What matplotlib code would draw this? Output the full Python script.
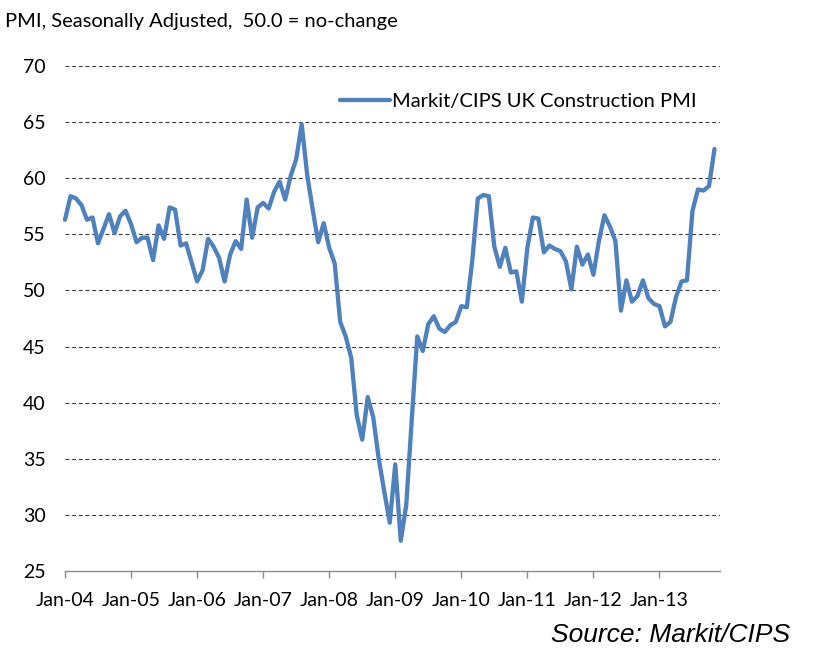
import numpy as np
import matplotlib
matplotlib.use('agg')
import matplotlib.pyplot as plt

# Markit/CIPS UK Construction PMI, monthly, Jan-04 .. Nov-13
pmi_2004 = [56.3, 58.4, 58.2, 57.6, 56.3, 56.5, 54.2, 55.5, 56.8, 55.1, 56.6, 57.1]
pmi_2005 = [55.9, 54.3, 54.7, 54.7, 52.7, 55.8, 54.6, 57.4, 57.2, 54.0, 54.2, 52.5]
pmi_2006 = [50.8, 51.8, 54.6, 53.9, 52.9, 50.8, 53.2, 54.4, 53.7, 58.1, 54.7, 57.4]
pmi_2007 = [57.8, 57.3, 58.8, 59.7, 58.1, 60.2, 61.7, 64.8, 60.3, 57.2, 54.3, 56.0]
pmi_2008 = [53.8, 52.4, 47.2, 45.9, 44.0, 38.9, 36.7, 40.5, 38.7, 35.0, 32.1, 29.3]
pmi_2009 = [34.5, 27.7, 30.9, 38.5, 45.9, 44.6, 47.0, 47.7, 46.6, 46.3, 46.9, 47.2]
pmi_2010 = [48.6, 48.5, 52.7, 58.2, 58.5, 58.4, 53.9, 52.1, 53.8, 51.6, 51.7, 49.0]
pmi_2011 = [53.8, 56.5, 56.4, 53.4, 54.0, 53.7, 53.5, 52.6, 50.1, 53.9, 52.3, 53.2]
pmi_2012 = [51.4, 54.4, 56.7, 55.7, 54.4, 48.2, 50.9, 49.0, 49.5, 50.9, 49.3, 48.8]
pmi_2013 = [48.6, 46.8, 47.2, 49.4, 50.8, 50.9, 57.1, 59.0, 58.9, 59.3, 62.6]

xlabels = ['Jan-04', 'Jan-05', 'Jan-06', 'Jan-07', 'Jan-08',
           'Jan-09', 'Jan-10', 'Jan-11', 'Jan-12', 'Jan-13']
yticks = [25, 30, 35, 40, 45, 50, 55, 60, 65, 70]

pmi = pmi_2004 + pmi_2005 + pmi_2006 + pmi_2007 + pmi_2008 + \
      pmi_2009 + pmi_2010 + pmi_2011 + pmi_2012 + pmi_2013
months = np.arange(len(pmi))

plt.rcParams['font.family'] = ['Lato', 'DejaVu Sans']

fig = plt.figure(figsize=[8.21, 6.62], dpi=100)
ax = fig.add_axes([65/821, 91/662, 655/821, 505/662])

for yv in yticks[1:]:
    ax.axhline(yv, color='#3a3a3a', linewidth=0.8, linestyle=(0, (3.5, 2.5)), zorder=1)

ax.plot(months, pmi, color='#4f81bd', linewidth=3.1, solid_joinstyle='round',
        solid_capstyle='round', clip_on=False,
        label='Markit/CIPS UK Construction PMI', zorder=3)

ax.set_xlim(0, 119)
ax.set_ylim(25, 70)
ax.set_xticks(np.arange(0, 120, 12))
ax.set_xticklabels(xlabels, fontsize=14)
ax.set_yticks(yticks)
ax.set_yticklabels([str(v) for v in yticks], fontsize=14)

for s in ['top', 'right', 'left']:
    ax.spines[s].set_visible(False)
ax.spines['bottom'].set_color('#8c8c8c')
ax.spines['bottom'].set_linewidth(1.0)
ax.tick_params(axis='x', direction='out', length=5, width=1.0, color='#8c8c8c', pad=10)
ax.tick_params(axis='y', length=0, pad=14)

leg = ax.legend(loc='upper right', bbox_to_anchor=(0.983, 0.97), frameon=False,
                fontsize=14.5, handlelength=2.5, handletextpad=0.1, borderaxespad=0.2)

fig.text(5/821, 1 - 22/662, 'PMI, Seasonally Adjusted,  50.0 = no-change',
         fontsize=14.5, ha='left', va='center')
fig.text(790/821, 1 - 635/662, 'Source: Markit/CIPS', fontsize=19, style='italic',
         family=['Liberation Sans', 'DejaVu Sans'], ha='right', va='center')

plt.savefig('out.png', dpi=100)
plt.close(fig)
